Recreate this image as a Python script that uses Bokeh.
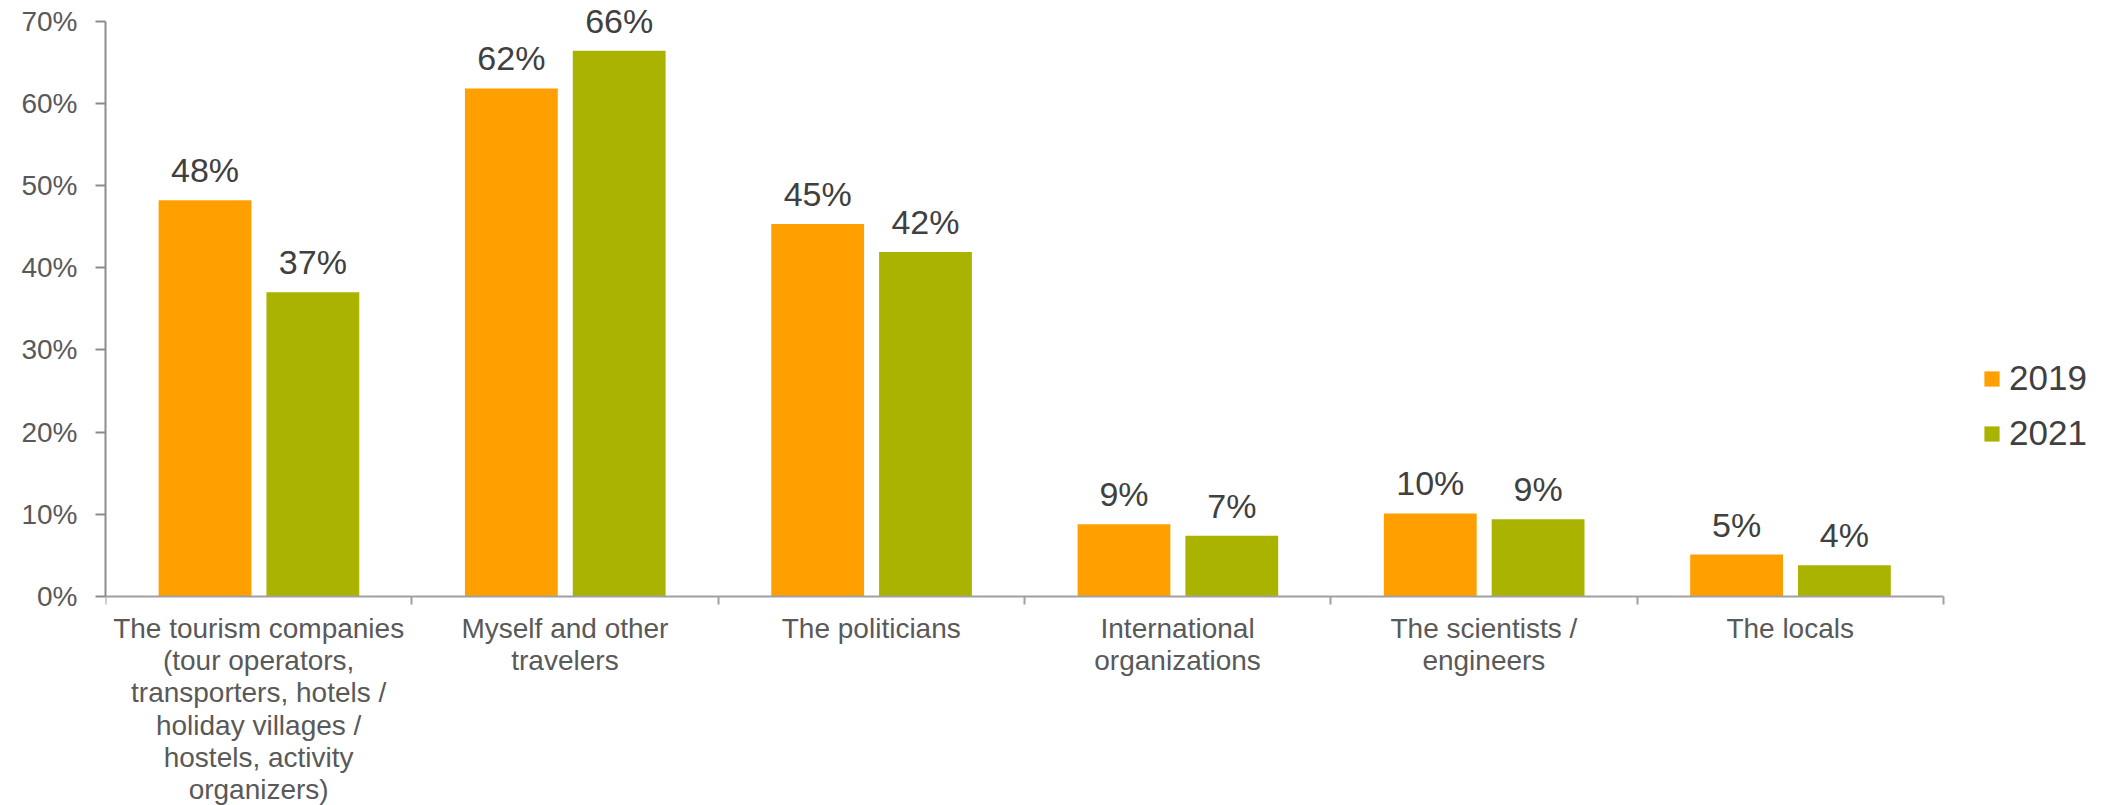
import numpy as np
from bokeh.plotting import figure
from bokeh.models import (Range1d, FixedTicker, ColumnDataSource, LabelSet,
                          Legend, LegendItem, PrintfTickFormatter)
from bokeh.core.properties import value
from bokeh.embed import file_html
from bokeh.resources import INLINE

categories = [
    "The tourism companies\n(tour operators,\ntransporters, hotels /\nholiday villages /\nhostels, activity\norganizers)",
    "Myself and other\ntravelers",
    "The politicians",
    "International\norganizations",
    "The scientists /\nengineers",
    "The locals",
]
series_names = ["2019", "2021"]
values_2019 = [48.2, 61.8, 45.3, 8.8, 10.1, 5.1]
values_2021 = [37.0, 66.4, 41.9, 7.4, 9.4, 3.8]
labels_2019 = ["48%", "62%", "45%", "9%", "10%", "5%"]
labels_2021 = ["37%", "66%", "42%", "7%", "9%", "4%"]
y_ticks = [0, 10, 20, 30, 40, 50, 60, 70]

colors = ["#FFA000", "#AAB400"]
FONT = "Liberation Sans"

n = len(categories)
centers = np.arange(n) + 0.5
bar_w = 0.303
offsets = [-0.175, 0.177]

# frame spans the whole canvas height; 0% sits at 596px, 70% at ~21px
p = figure(width=2102, height=805, output_backend="svg", toolbar_location=None,
           x_range=Range1d(0, n + 0.5), y_range=Range1d(-25.42, 72.5),
           min_border_left=105, min_border_top=0, min_border_bottom=0, min_border_right=6)
p.outline_line_color = None
p.xgrid.visible = False
p.ygrid.visible = False
p.background_fill_color = "white"
p.border_fill_color = "white"

renderers = []
for vals, labs, col, off in zip([values_2019, values_2021], [labels_2019, labels_2021], colors, offsets):
    src = ColumnDataSource(dict(x=centers + off, top=vals, label=labs))
    r = p.vbar(x="x", top="top", width=bar_w, bottom=0, source=src,
               fill_color=col, line_color=None)
    renderers.append(r)
    ls = LabelSet(x="x", y="top", text="label", source=src, y_offset=18,
                  text_align="center", text_baseline="alphabetic",
                  text_font=value(FONT), text_font_size=value("34px"), text_color="#404040")
    p.add_layout(ls)

# y axis
p.yaxis.bounds = (0, 70)
p.yaxis.ticker = FixedTicker(ticks=y_ticks)
p.yaxis.formatter = PrintfTickFormatter(format="%d%%")
p.yaxis.major_label_text_font = FONT
p.yaxis.major_label_text_font_size = "28px"
p.yaxis.major_label_text_color = "#595959"
p.yaxis.major_label_standoff = 18
p.yaxis.major_tick_out = 10
p.yaxis.major_tick_in = 0
p.yaxis.minor_tick_line_color = None
p.yaxis.axis_line_color = "#8c8c8c"
p.yaxis.axis_line_width = 2
p.yaxis.major_tick_line_color = "#8c8c8c"
p.yaxis.major_tick_line_width = 2

# x axis pinned at 0%: labels at category centres, tick marks at category boundaries
p.xaxis.fixed_location = 0
p.xaxis.bounds = (0, n)
p.xaxis.ticker = FixedTicker(ticks=list(centers), minor_ticks=list(range(n + 1)))
p.xaxis.major_label_overrides = {float(c): cat for c, cat in zip(centers, categories)}
p.xaxis.major_label_text_font = FONT
p.xaxis.major_label_text_font_size = "28px"
p.xaxis.major_label_text_color = "#595959"
p.xaxis.major_label_text_line_height = 1.045
p.xaxis.major_label_standoff = 8
p.xaxis.major_tick_line_color = None
p.xaxis.major_tick_out = 0
p.xaxis.major_tick_in = 0
p.xaxis.minor_tick_out = 8
p.xaxis.minor_tick_in = 0
p.xaxis.minor_tick_line_color = "#a0a0a0"
p.xaxis.minor_tick_line_width = 2
p.xaxis.axis_line_color = "#a0a0a0"
p.xaxis.axis_line_width = 2

legend = Legend(items=[LegendItem(label=nm, renderers=[r]) for nm, r in zip(series_names, renderers)],
                location=(1877, 352), orientation="vertical")
legend.glyph_width = 19
legend.glyph_height = 19
legend.label_standoff = 8
legend.label_text_font = FONT
legend.label_text_font_size = "35px"
legend.label_text_color = "#404040"
legend.spacing = 15
legend.padding = 0
legend.margin = 0
legend.border_line_alpha = 0
legend.background_fill_alpha = 0
p.add_layout(legend)

open("out.html", "w").write(file_html(p, INLINE))
